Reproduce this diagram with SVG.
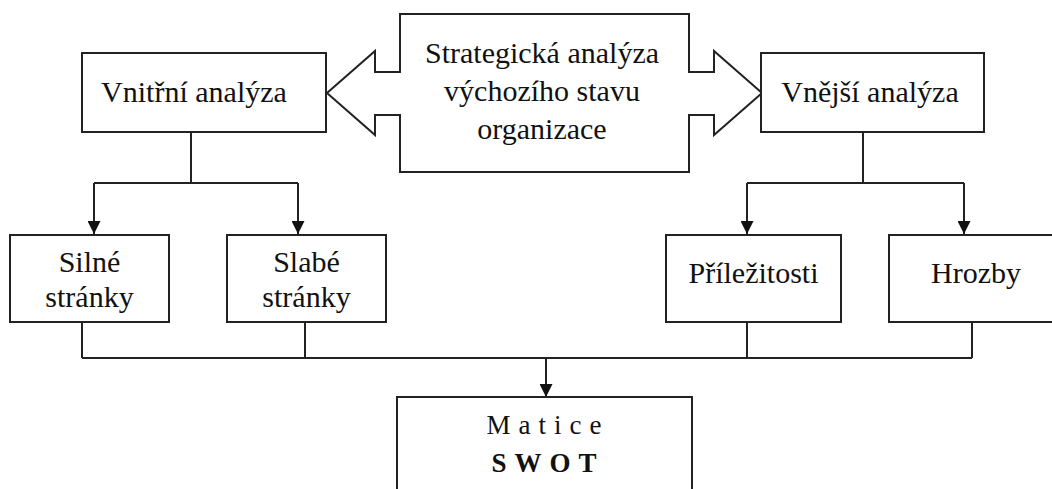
<svg xmlns="http://www.w3.org/2000/svg" width="1052" height="489" viewBox="0 0 1052 489">
<style>
.box{fill:#fff;stroke:#222;stroke-width:2}
.ln{fill:none;stroke:#222;stroke-width:2}
text{font-family:'Liberation Serif','Times New Roman','DejaVu Serif',serif;font-size:30px;fill:#111;text-anchor:middle}
.sp{letter-spacing:8px;font-size:27px}
.b{font-weight:bold}
</style>
<defs>
<marker id="ah" viewBox="0 0 10 10" refX="10" refY="5" markerWidth="13" markerHeight="13" markerUnits="userSpaceOnUse" orient="auto">
<path d="M0,0 L10,5 L0,10 Z" fill="#111"/>
</marker>
</defs>
<g id="connectors">
<path class="ln" d="M191,132 V183 M94,183 H298"/>
<path class="ln" d="M94,183 V234" marker-end="url(#ah)"/>
<path class="ln" d="M298,183 V234" marker-end="url(#ah)"/>
<path class="ln" d="M863,132 V183 M747,183 H964"/>
<path class="ln" d="M747,183 V234" marker-end="url(#ah)"/>
<path class="ln" d="M964,183 V234" marker-end="url(#ah)"/>
<path class="ln" d="M82,322 V358 M305,322 V358 M747,322 V358 M972,322 V358 M82,358 H972"/>
<path class="ln" d="M546,358 V397" marker-end="url(#ah)"/>
</g>
<g id="strategicka">
<path class="box" d="M400,14 H689 V72 H714 V51 L762,93 L714,135 V115 H689 V172 H400 V115 H375 V135 L327,93 L375,51 V72 H400 Z"/>
<text x="542" y="63">Strategická analýza</text>
<text x="542" y="101">výchozího stavu</text>
<text x="542" y="139">organizace</text>
</g>
<g id="vnitrni">
<rect class="box" x="82" y="53" width="244" height="79"/>
<text x="194" y="102">Vnitřní analýza</text>
</g>
<g id="vnejsi">
<rect class="box" x="761" y="53" width="223" height="79"/>
<text x="870" y="102">Vnější analýza</text>
</g>
<g id="silne">
<rect class="box" x="10" y="235" width="159" height="87"/>
<text x="89.5" y="272">Silné</text>
<text x="89.5" y="307">stránky</text>
</g>
<g id="slabe">
<rect class="box" x="227" y="235" width="159" height="87"/>
<text x="306.5" y="272">Slabé</text>
<text x="306.5" y="307">stránky</text>
</g>
<g id="prilezitosti">
<rect class="box" x="666" y="235" width="175" height="87"/>
<text x="753.5" y="283">Příležitosti</text>
</g>
<g id="hrozby">
<rect class="box" x="889" y="235" width="175" height="87"/>
<text x="976" y="283">Hrozby</text>
</g>
<g id="matice">
<rect class="box" x="397" y="397" width="295" height="110"/>
<text class="sp" x="548" y="434">Matice</text>
<text class="sp b" x="548" y="472">SWOT</text>
</g>
</svg>
